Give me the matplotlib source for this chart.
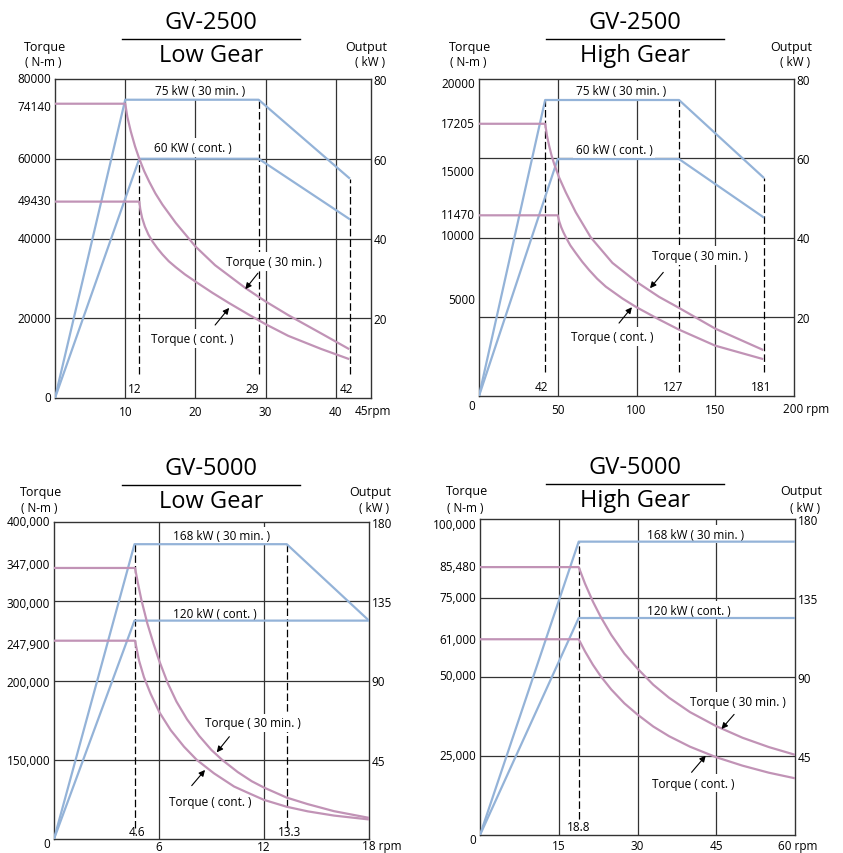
import matplotlib
matplotlib.use("Agg")
import numpy as np
import matplotlib.pyplot as plt
from matplotlib.lines import Line2D

plt.rcParams['font.family'] = ['Open Sans', 'DejaVu Sans']

BLUE = '#94b3d8'
MAUVE = '#c193b6'
GRID = '#333333'
W, H = 843, 854

# ---------------- GV-2500 Low Gear ----------------
lg25_model, lg25_gear = 'GV-2500', 'Low Gear'
lg25_rpm_max, lg25_kw_max = 45, 80
lg25_xticks = [10, 20, 30, 40]
lg25_xend = '45rpm'
lg25_kw_ticks = [20, 40, 60, 80]
lg25_torque_labels = ['80000', '74140', '60000', '49430', '40000', '20000', '0']
lg25_torque_at = [80, 73.2, 60, 49.6, 40, 20, 0]       # heights on the kW grid
lg25_p30_rpm = [0, 10, 29, 42]
lg25_p30_kw = [0, 74.8, 74.8, 55]
lg25_pc_rpm = [0, 12, 29, 42]
lg25_pc_kw = [0, 60, 60, 44.8]
lg25_t30_rpm = [0, 10, 10.3, 10.8, 11.4, 12, 12.7, 13.4, 14.3, 15.3, 17.2, 20, 22.8,
                27.1, 30, 33.2, 37.9, 41.9]
lg25_t30 = [73.8, 73.8, 70.5, 66.8, 63.1, 60, 56.9, 54.3, 51.3, 48.5, 43.9, 38.0, 33.3,
            27.6, 24.2, 20.8, 16.2, 12.25]
lg25_tc_rpm = [0, 12, 12.15, 12.4, 12.8, 13.3, 13.9, 14.6, 15.3, 16.2, 17.2, 18.5, 20,
               22.4, 24.7, 27.5, 30, 33.2, 37.9, 41.9]
lg25_tc = [49.25, 49.25, 47.3, 45.2, 43.0, 41.0, 39.2, 37.5, 36.0, 34.3, 32.8, 31.0, 29.2,
           26.4, 23.9, 21.0, 18.5, 15.6, 12.3, 9.75]
lg25_speeds = [12, 29, 42]
lg25_speed_labels = ['12', '29', '42']
lg25_speed_from = ['cont', '30', '30']
lg25_p30_text = '75 kW ( 30 min. )'
lg25_pc_text = '60 KW ( cont. )'

# ---------------- GV-2500 High Gear ----------------
hg25_model, hg25_gear = 'GV-2500', 'High Gear'
hg25_rpm_max, hg25_kw_max = 200, 80
hg25_xticks = [50, 100, 150]
hg25_xend = '200 rpm'
hg25_kw_ticks = [20, 40, 60, 80]
hg25_torque_labels = ['20000', '17205', '15000', '11470', '10000', '5000', '0']
hg25_torque_at = [78.8, 68.7, 56.6, 45.7, 40.4, 24.3, -2.5]
hg25_p30_rpm = [0, 42, 127, 181]
hg25_p30_kw = [0, 74.7, 74.7, 55.0]
hg25_pc_rpm = [0, 50, 127, 181]
hg25_pc_kw = [0, 59.8, 59.8, 45.0]
hg25_t30_rpm = [0, 42, 43.2, 44.5, 46, 47.7, 50.8, 55.1, 61.4, 71.0, 84.7, 100, 114.4,
                126.7, 150, 180.5]
hg25_t30 = [68.7, 68.7, 65.6, 63.2, 60.8, 58.6, 55.2, 51.4, 46.4, 40.0, 33.6, 28.8, 25.0,
            22.3, 17.0, 11.6]
hg25_tc_rpm = [0, 50, 51, 52.2, 53.6, 55.5, 58, 61.4, 65.5, 69.9, 75, 80.5, 91.1, 100,
               114.4, 126.7, 150, 180.5]
hg25_tc = [45.6, 45.6, 44.0, 42.6, 41.3, 39.8, 38.0, 36.1, 33.9, 31.8, 29.6, 27.6, 24.6,
           22.4, 19.3, 16.8, 12.7, 9.3]
hg25_speeds = [42, 127, 181]
hg25_speed_labels = ['42', '127', '181']
hg25_speed_from = ['30', '30', '30']
hg25_p30_text = '75 kW ( 30 min. )'
hg25_pc_text = '60 kW ( cont. )'

# ---------------- GV-5000 Low Gear ----------------
lg50_model, lg50_gear = 'GV-5000', 'Low Gear'
lg50_rpm_max, lg50_kw_max = 18, 180
lg50_xticks = [6, 12]
lg50_xend = '18 rpm'
lg50_kw_ticks = [45, 90, 135, 180]
lg50_torque_labels = ['400,000', '347,000', '300,000', '247,900', '200,000', '150,000', '0']
lg50_torque_at = [180, 155.6, 134, 110.5, 89, 44.5, -2.8]
lg50_p30_rpm = [0, 4.6, 13.3, 18]
lg50_p30_kw = [0, 167.4, 167.4, 124]
lg50_pc_rpm = [0, 4.6, 18]
lg50_pc_kw = [0, 124, 124]
lg50_t30_rpm = [0, 4.63, 4.8, 5.0, 5.33, 5.7, 6.0, 6.5, 7.0, 7.6, 8.3, 9.0, 9.6, 10.5,
                11.3, 12.0, 13.3, 14.5, 16, 18]
lg50_t30 = [153.9, 153.9, 145, 135.5, 122.5, 110.5, 101.5, 88.5, 78, 68, 58.5, 50.5, 45,
            38, 32.8, 29.2, 23.5, 19.8, 15.8, 12.0]
lg50_tc_rpm = [0, 4.63, 4.86, 5.14, 5.52, 6.02, 6.67, 7.43, 8.15, 9.14, 10.29, 11.0, 12.0,
               13.3, 14.5, 16, 18]
lg50_tc = [112.6, 112.6, 101.3, 91.9, 82.5, 72.0, 61.8, 52.4, 45.0, 37.3, 29.8, 26.6, 22.2,
           18.3, 15.7, 13.3, 11.1]
lg50_speeds = [4.6, 13.3]
lg50_speed_labels = ['4.6', '13.3']
lg50_speed_from = ['30', '30']
lg50_p30_text = '168 kW ( 30 min. )'
lg50_pc_text = '120 kW ( cont. )'

# ---------------- GV-5000 High Gear ----------------
hg50_model, hg50_gear = 'GV-5000', 'High Gear'
hg50_rpm_max, hg50_kw_max = 60, 180
hg50_xticks = [15, 30, 45]
hg50_xend = '60 rpm'
hg50_kw_ticks = [45, 90, 135, 180]
hg50_torque_labels = ['100,000', '85,480', '75,000', '61,000', '50,000', '25,000', '0']
hg50_torque_at = [177, 153, 135, 111.2, 90.7, 45.2, -2.3]
hg50_p30_rpm = [0, 18.8, 60]
hg50_p30_kw = [0, 167.1, 167.1]
hg50_pc_rpm = [0, 18.8, 60]
hg50_pc_kw = [0, 123.6, 123.6]
hg50_t30_rpm = [0, 18.8, 20, 21.5, 23, 25, 27.5, 30, 33, 36, 40, 45, 50, 55, 60]
hg50_t30 = [152.6, 152.6, 143.2, 133, 124.2, 114, 103.3, 94.8, 85.6, 78.2, 70, 62, 55.4,
            50.1, 45.7]
hg50_tc_rpm = [0, 18.8, 20, 21.5, 23, 25, 27.5, 30, 33, 36, 40, 45, 50, 55, 60]
hg50_tc = [111.5, 111.5, 104.6, 97, 90.4, 82.9, 75, 68.6, 61.8, 56.3, 50.3, 44.3, 39.5,
           35.5, 32.3]
hg50_speeds = [18.8]
hg50_speed_labels = ['18.8']
hg50_speed_from = ['30']
hg50_p30_text = '168 kW ( 30 min. )'
hg50_pc_text = '120 kW ( cont. )'


def fx(px):
    return px / W


def fy(py):
    return 1 - py / H


def draw_panel(fig, d, lay):
    x0, y0, x1, y1 = lay['box']
    ax = fig.add_axes([fx(x0), fy(y1), (x1 - x0) / W, (y1 - y0) / H])
    ax.set_xlim(0, d['rpm_max'])
    ax.set_ylim(0, d['kw_max'])
    for s in ax.spines.values():
        s.set_color(GRID)
        s.set_linewidth(1.0)
    ax.tick_params(length=0, labelsize=8.5)
    ax.tick_params(axis='x', pad=lay['xpad'])
    ax.set_xticks(d['xticks'])
    ax.set_xticklabels([str(v) for v in d['xticks']])
    ax.yaxis.tick_right()
    ax.set_yticks(d['kw_ticks'])
    ax.set_yticklabels([str(v) for v in d['kw_ticks']])
    ax.tick_params(axis='y', pad=2)

    # grid
    for v in d['xticks']:
        ax.axvline(v, color=GRID, lw=0.9, zorder=1)
    for v in d['kw_ticks'][:-1]:
        ax.axhline(v, color=GRID, lw=0.9, zorder=1)

    # speed markers
    curves = {'30': (d['p30_rpm'], d['p30_kw']), 'cont': (d['pc_rpm'], d['pc_kw'])}
    for s, lab, frm, lx in zip(d['speeds'], d['speed_labels'], d['speed_from'], lay['speed_x']):
        top = np.interp(s, *curves[frm])
        ax.vlines(s, lay['dash_low'], top, colors='k', lw=0.9,
                  linestyles=(0, (6, 2.5)), zorder=2)
        ax.text(lx, lay['speed_y'], lab, ha='center', va='center', fontsize=8.5, zorder=3)

    # torque axis labels
    for lab, yv in zip(d['torque_labels'], d['torque_at']):
        ax.text(-0.012, yv, lab, transform=ax.get_yaxis_transform(), ha='right',
                va='center', fontsize=8.5, clip_on=False)

    ax.text(lay['xend_x'], lay['xend_y'], d['xend'], transform=ax.get_xaxis_transform(),
            ha='left', va='center', fontsize=8.5, clip_on=False)

    box = dict(fc='white', ec='none', pad=2)
    ax.text(*lay['p30_xy'], d['p30_text'], ha='center', va='center', fontsize=8.5,
            zorder=4, bbox=box)
    ax.text(*lay['pc_xy'], d['pc_text'], ha='center', va='center', fontsize=8.5,
            zorder=4, bbox=box)
    ax.text(*lay['t30_xy'], 'Torque ( 30 min. )', ha='center', va='center',
            fontsize=8.5, zorder=4, bbox=box)
    ax.text(*lay['tc_xy'], 'Torque ( cont. )', ha='center', va='center',
            fontsize=8.5, zorder=4, bbox=box)
    arrow = dict(arrowstyle='-|>', color='k', lw=0.8, mutation_scale=9,
                 shrinkA=0, shrinkB=0)
    ax.annotate('', xy=lay['t30_arrow'][1], xytext=lay['t30_arrow'][0],
                arrowprops=arrow, zorder=6)
    ax.annotate('', xy=lay['tc_arrow'][1], xytext=lay['tc_arrow'][0],
                arrowprops=arrow, zorder=6)

    # curves
    style = dict(lw=1.6, zorder=5, solid_joinstyle='round', solid_capstyle='butt')
    ax.plot(d['p30_rpm'], d['p30_kw'], color=BLUE, **style)
    ax.plot(d['pc_rpm'], d['pc_kw'], color=BLUE, **style)
    ax.plot(d['t30_rpm'], d['t30'], color=MAUVE, **style)
    ax.plot(d['tc_rpm'], d['tc'], color=MAUVE, **style)

    # headings
    cx = lay['title_cx']
    ty = lay['title_y']
    fig.text(fx(cx), fy(ty), d['model'], ha='center', va='center', fontsize=17)
    fig.add_artist(Line2D([fx(cx - 89), fx(cx + 89)], [fy(ty + 17), fy(ty + 17)],
                          transform=fig.transFigure, color='k', lw=1.0))
    fig.text(fx(cx), fy(ty + 33), d['gear'], ha='center', va='center', fontsize=17)
    tx, ox = lay['torque_x'], lay['output_x']
    fig.text(fx(tx), fy(ty + 24), 'Torque', ha='center', va='center', fontsize=9)
    fig.text(fx(tx - 2), fy(ty + 40), '( N-m )', ha='center', va='center', fontsize=8.5)
    fig.text(fx(ox), fy(ty + 24), 'Output', ha='center', va='center', fontsize=9)
    fig.text(fx(ox + 4), fy(ty + 40), '( kW )', ha='center', va='center', fontsize=8.5)
    return ax


def panel_data(p):
    g = globals()
    keys = ['model', 'gear', 'rpm_max', 'kw_max', 'xticks', 'xend', 'kw_ticks',
            'torque_labels', 'torque_at', 'p30_rpm', 'p30_kw', 'pc_rpm', 'pc_kw',
            't30_rpm', 't30', 'tc_rpm', 'tc', 'speeds', 'speed_labels', 'speed_from',
            'p30_text', 'pc_text']
    return {k: g[p + '_' + k] for k in keys}


layouts = {
    'lg25': dict(box=(55, 80, 371, 399), title_cx=211, title_y=23, torque_x=45, output_x=366,
                 speed_x=[11.4, 28.1, 41.5], speed_y=2.5, dash_low=6, xend_x=42.7,
                 xend_y=-0.04, xpad=5,
                 p30_xy=(20.6, 77.2), pc_xy=(19.7, 62.8), t30_xy=(31.2, 34.3),
                 tc_xy=(19.6, 15.0), t30_arrow=((28.9, 31.3), (27.1, 27.3)),
                 tc_arrow=((22.8, 18.3), (24.8, 22.6))),
    'hg25': dict(box=(479, 80, 794, 397), title_cx=635, title_y=23, torque_x=470, output_x=791,
                 speed_x=[39.7, 123.2, 179], speed_y=2.3, dash_low=6, xend_x=193,
                 xend_y=-0.04, xpad=5,
                 p30_xy=(90.5, 77.2), pc_xy=(85.7, 62.2), t30_xy=(140.3, 35.5),
                 tc_xy=(84.4, 15.0), t30_arrow=((117, 31.2), (108.6, 27.2)),
                 tc_arrow=((88.9, 18.4), (97.1, 22.4))),
    'lg50': dict(box=(54, 523, 369, 840), title_cx=211, title_y=469, torque_x=41, output_x=370,
                 speed_x=[4.74, 13.43], speed_y=4.0, dash_low=6.5, xend_x=17.6,
                 xend_y=-0.022, xpad=0.5,
                 p30_xy=(9.55, 172.1), pc_xy=(9.2, 127.8), t30_xy=(11.34, 65.9),
                 tc_xy=(8.9, 21.3), t30_arrow=((10.02, 58.1), (9.30, 49.2)),
                 tc_arrow=((7.87, 30.3), (8.63, 39.2))),
    'hg50': dict(box=(480, 520, 795, 836), title_cx=635, title_y=468, torque_x=467, output_x=801,
                 speed_x=[18.86], speed_y=4.6, dash_low=9, xend_x=56.8,
                 xend_y=-0.034, xpad=3,
                 p30_xy=(41.1, 171.4), pc_xy=(39.8, 128.1), t30_xy=(49.1, 76.0),
                 tc_xy=(40.6, 29.6), t30_arrow=((48.4, 68.7), (46.0, 60.4)),
                 tc_arrow=((40.3, 35.7), (43.0, 45.2))),
}

fig = plt.figure(figsize=(W / 100, H / 100), dpi=100)
for name in ['lg25', 'hg25', 'lg50', 'hg50']:
    draw_panel(fig, panel_data(name), layouts[name])

fig.savefig('out.png', dpi=100)
